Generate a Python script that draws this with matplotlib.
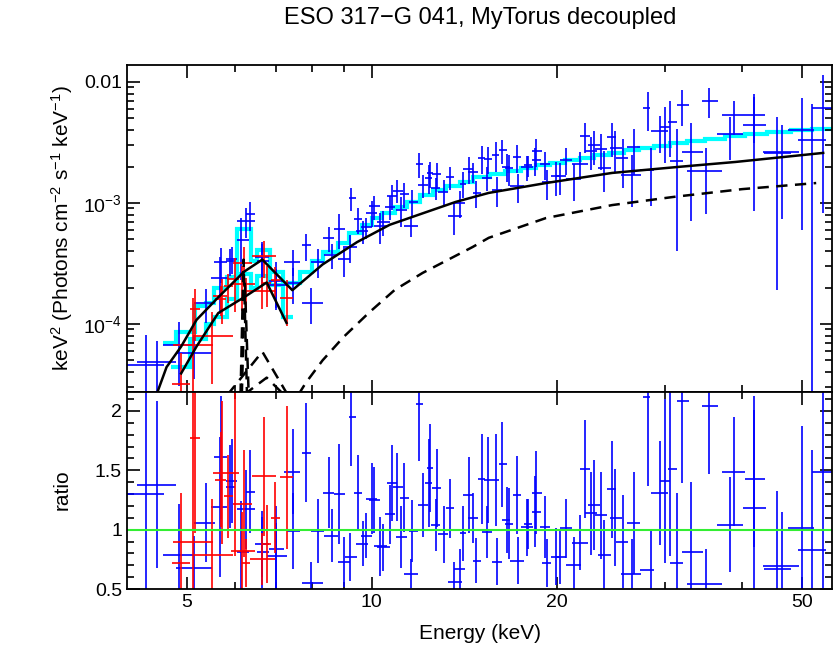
import numpy as np
import matplotlib
matplotlib.use("Agg")
import matplotlib.pyplot as plt
from matplotlib.ticker import FixedLocator, NullFormatter, FixedFormatter, MultipleLocator, LogLocator

plt.rcParams['font.family'] = ['Liberation Sans', 'DejaVu Sans']
plt.rcParams['mathtext.fontset'] = 'custom'
plt.rcParams['mathtext.rm'] = 'Liberation Sans'
plt.rcParams['mathtext.it'] = 'Liberation Sans:italic'

# ---- blue data (energy centre, bin edges, ratio, 1-sigma) ----
b_e = [4.30, 4.48, 4.87, 5.15, 5.37, 5.66, 5.68, 5.92, 5.88, 6.14, 6.33, 6.24, 6.62, 6.64, 7.00, 6.98, 7.44, 7.44,
       7.83, 7.98, 8.17, 8.51, 8.61, 8.84, 9.00, 9.23, 9.27, 9.50, 9.67, 9.80, 10.0, 10.1, 10.3, 10.45, 10.7, 10.8,
       11.0, 11.15, 11.3, 11.65, 11.6, 11.95, 12.1, 12.4, 12.45, 12.75, 12.7, 13.1, 13.4, 13.6, 13.9, 14.1, 14.4,
       14.6, 14.8,
       15.1, 15.4, 15.45, 15.9, 16.0, 16.3, 16.6, 16.75, 17.3, 17.25, 17.9, 17.95, 18.5, 18.45, 19.3, 19.1, 19.9,
       20.2, 20.7, 21.3, 21.8, 22.2, 22.7, 23.0, 23.6, 23.9, 24.6, 24.9, 25.6, 26.5, 26.7, 28.1, 28.4,
       29.4, 30.0, 30.6, 31.3, 31.9, 33.0, 34.9, 35.4, 38.2, 38.8, 41.8, 41.9, 45.6, 46.4, 50.0, 51.9, 54.1]
b_lo = [3.99, 4.16, 4.58, 4.80, 5.15, 5.47, 5.55, 5.79, 5.79, 6.03, 6.24, 6.03, 6.45, 6.50, 6.80, 6.75, 7.21, 7.27,
        7.70, 7.70, 7.98, 8.32, 8.38, 8.67, 8.80, 9.04, 9.20, 9.37, 9.43, 9.60, 9.80, 9.90, 10.1, 10.2, 10.5, 10.6,
        10.85, 10.95, 11.1, 11.5, 11.3, 11.8, 11.9, 12.2, 12.3, 12.55, 12.5, 12.8, 13.2, 13.3, 13.6, 13.9, 14.1,
        14.35, 14.6,
        14.9, 15.1, 15.2, 15.7, 15.7, 16.1, 16.3, 16.45, 16.8, 17.0, 17.5, 17.7, 18.2, 18.2, 18.9, 18.8, 19.6,
        19.9, 20.2, 20.7, 21.2, 21.8, 22.2, 22.5, 23.1, 23.3, 24.1, 24.4, 25.0, 25.4, 26.0, 27.6, 27.3,
        28.5, 29.4, 30.3, 30.5, 31.3, 31.9, 32.6, 34.4, 36.4, 37.1, 40.4, 40.2, 43.2, 43.4, 47.6, 49.3, 51.9]
b_hi = [4.60, 4.80, 5.15, 5.49, 5.57, 5.81, 5.81, 6.05, 6.00, 6.31, 6.47, 6.45, 6.82, 6.82, 7.21, 7.27, 7.64, 7.64,
        7.98, 8.32, 8.38, 8.70, 8.80, 9.04, 9.23, 9.46, 9.43, 9.64, 9.85, 10.0, 10.2, 10.3, 10.6, 10.7, 10.9, 11.0,
        11.25, 11.4, 11.5, 11.9, 11.9, 12.1, 12.35, 12.55, 12.6, 12.95, 12.9, 13.3, 13.6, 14.0, 14.2, 14.25, 14.6,
        14.9, 15.05,
        15.3, 15.7, 15.7, 16.1, 16.3, 16.6, 16.8, 17.0, 17.7, 17.5, 18.3, 18.2, 18.9, 18.85, 19.6, 19.5, 20.2,
        20.7, 21.2, 21.9, 22.45, 22.6, 23.2, 23.5, 24.1, 24.5, 25.0, 25.5, 26.1, 27.4, 27.3, 28.3, 28.8,
        30.3, 30.6, 31.3, 32.1, 32.8, 34.5, 37.1, 36.5, 40.2, 40.5, 43.6, 43.8, 49.5, 48.0, 52.3, 54.7, 56.1]
b_ratio = [1.30, 1.38, 0.79, 0.68, 1.06, 1.19, 1.61, 1.41, 1.36, 0.81, 1.32, 1.17, 0.88, 0.81, 0.84, 0.78, 1.49, 0.99,
           1.65, 0.55, 0.99, 1.31, 0.95, 1.30, 0.73, 0.77, 1.95, 1.31, 0.88, 0.95, 1.26, 1.25, 0.86, 0.85, 1.13, 1.39,
           1.36, 0.94, 1.27, 0.99, 0.63, 2.06, 1.21, 1.39, 1.52, 1.35, 1.04, 0.96, 1.18, 0.56, 0.67, 0.97, 1.29,
           1.10, 0.74,
           1.43, 0.98, 1.42, 1.42, 0.73, 1.55, 1.08, 1.05, 0.74, 1.29, 1.02, 1.05, 1.31, 1.15, 0.72, 1.02, 0.77,
           0.77, 1.01, 0.70, 0.89, 1.51, 1.14, 1.21, 1.12, 0.79, 1.34, 1.10, 0.90, 0.63, 1.06, 2.12, 0.66,
           1.31, 1.41, 1.51, 0.72, 2.08, 0.81, 0.54, 2.04, 1.04, 1.49, 1.43, 1.18, 0.69, 0.67, 1.01, 0.83, 1.49]
b_sig = [1.00, 0.70, 0.43, 0.27, 0.33, 0.59, 0.52, 0.35, 0.35, 0.43, 0.35, 0.33, 0.28, 0.30, 0.36, 0.28, 0.36, 0.32,
         0.42, 0.18, 0.27, 0.30, 0.22, 0.42, 0.21, 0.20, 0.41, 0.32, 0.19, 0.19, 0.30, 0.28, 0.25, 0.20, 0.25, 0.32,
         0.29, 0.26, 0.29, 0.26, 0.12, 0.48, 0.27, 0.37, 0.37, 0.33, 0.22, 0.24, 0.25, 0.17, 0.17, 0.23, 0.32,
         0.21, 0.19,
         0.38, 0.22, 0.36, 0.39, 0.20, 0.36, 0.28, 0.30, 0.20, 0.33, 0.24, 0.21, 0.35, 0.30, 0.20, 0.26, 0.24,
         0.23, 0.25, 0.24, 0.23, 0.41, 0.35, 0.38, 0.37, 0.29, 0.41, 0.41, 0.39, 0.29, 0.43, 0.75, 0.33,
         0.44, 0.69, 0.73, 0.59, 0.69, 0.59, 0.30, 0.57, 0.40, 0.46, 0.58, 0.95, 0.64, 0.48, 0.86, 0.84, 1.29]

# ---- red data ----
r_e = [4.89, 5.13, 5.17, 5.50, 5.70, 5.68, 6.00, 5.84, 6.19, 6.15, 6.25, 6.69, 6.64, 6.77, 6.97, 7.27]
r_lo = [4.73, 4.76, 5.06, 5.15, 5.53, 5.57, 5.81, 5.75, 5.94, 5.90, 6.15, 6.39, 6.33, 6.64, 6.85, 7.10]
r_hi = [5.06, 5.53, 5.25, 5.96, 5.81, 5.79, 6.08, 5.94, 6.39, 6.45, 6.33, 7.00, 6.97, 6.87, 7.10, 7.44]
r_ratio = [0.72, 0.90, 1.77, 0.79, 1.48, 1.42, 1.48, 1.28, 1.22, 0.82, 0.72, 1.45, 0.75, 0.88, 1.10, 1.44]
r_sig = [0.59, 1.30, 0.80, 0.47, 0.60, 0.40, 0.70, 0.35, 0.45, 0.33, 0.20, 0.50, 0.22, 0.33, 0.30, 0.60]

# ---- folded model steps (cyan) ----
bmod_edges = [4.0, 4.58, 4.81, 5.16, 5.38, 5.54, 5.81, 6.05, 6.36, 6.50, 6.83, 7.18,
              7.64, 8.0, 8.32, 8.8, 9.2, 9.63, 10.03, 10.4, 10.9, 11.4, 11.96, 12.56, 13.2, 13.9, 14.6, 15.55,
              16.5, 17.5, 18.5, 19.5, 20.6, 21.8, 23.0, 24.3, 25.7, 27.2, 28.8, 30.5, 32.5, 34.8, 37.5, 40.5,
              44.0, 48.0, 52.0, 56.0]
bmod_vals = [3.5e-5, 6.9e-5, 8.5e-5, 1.4e-4, 1.5e-4, 2.0e-4, 2.45e-4, 6.1e-4, 3.3e-4, 4.1e-4, 2.7e-4, 2.2e-4,
             2.7e-4, 3.3e-4, 3.9e-4, 4.7e-4, 5.6e-4, 6.6e-4, 7.5e-4, 8.2e-4, 9.3e-4, 1.02e-3, 1.16e-3, 1.28e-3,
             1.38e-3, 1.49e-3, 1.64e-3,
             1.75e-3, 1.85e-3, 1.95e-3, 2.05e-3, 2.15e-3, 2.25e-3, 2.37e-3, 2.48e-3, 2.6e-3, 2.72e-3, 2.85e-3,
             2.98e-3, 3.1e-3, 3.25e-3, 3.4e-3, 3.55e-3, 3.7e-3, 3.85e-3, 3.97e-3, 4.1e-3]
rmod_edges = [4.72, 5.06, 5.38, 5.54, 5.81, 6.05, 6.36, 6.50, 6.83, 7.18, 7.46]
rmod_vals = [4.4e-5, 7.5e-5, 1.0e-4, 1.14e-4, 1.6e-4, 2.6e-4, 2.0e-4, 2.5e-4, 2.1e-4, 1.14e-4]

# ---- unfolded model curves (black) ----
btot_e = [4.48, 4.64, 4.9, 5.19, 5.63, 6.2, 6.64, 7.43, 8.32, 9.47, 10.7, 12.1, 13.7, 15.5, 19.2, 24.6, 31.7, 39.0, 54.2]
btot_v = [2.7e-5, 4.4e-5, 6.5e-5, 1.08e-4, 1.66e-4, 2.7e-4, 3.4e-4, 1.9e-4, 3.1e-4, 4.75e-4, 6.6e-4, 8.2e-4,
          1.02e-3, 1.21e-3, 1.46e-3, 1.77e-3, 1.99e-3, 2.18e-3, 2.59e-3]
rtot_e = [4.9, 5.19, 5.63, 6.2, 6.75, 7.27]
rtot_v = [3.9e-5, 6.5e-5, 1.23e-4, 1.66e-4, 2.2e-4, 1.02e-4]
cont_e = [7.6, 7.81, 8.32, 9.0, 9.9, 10.9, 12.1, 14.6, 15.5, 19.2, 24.6, 30.9, 40.0, 52.8]
cont_v = [2.6e-5, 3.25e-5, 5.0e-5, 7.8e-5, 1.24e-4, 1.91e-4, 2.64e-4, 4.33e-4, 5.15e-4, 7.5e-4, 9.6e-4,
          1.12e-3, 1.3e-3, 1.46e-3]
line_b_e = [6.12, 6.19, 6.27]
line_b_v = [2.6e-5, 3.4e-4, 2.6e-5]
line_r_e = [6.15, 6.22, 6.31]
line_r_v = [2.6e-5, 2.2e-4, 2.6e-5]
scat_b_e = [5.83, 6.64, 7.30]
scat_b_v = [2.6e-5, 5.9e-5, 2.6e-5]
scat_r_e = [6.2, 6.75, 7.2]
scat_r_v = [2.6e-5, 3.6e-5, 2.6e-5]


def model_at(e, edges, vals):
    i = np.clip(np.searchsorted(edges, e, side='right') - 1, 0, len(vals) - 1)
    return np.asarray(vals)[i]


b_e = np.array(b_e); r_e = np.array(r_e)
b_m = model_at(b_e, bmod_edges, bmod_vals)
r_m = model_at(r_e, rmod_edges, rmod_vals)
b_y = np.array(b_ratio) * b_m
b_dy = np.array(b_sig) * b_m
r_y = np.array(r_ratio) * r_m
r_dy = np.array(r_sig) * r_m

b_xerr = [b_e - np.array(b_lo), np.array(b_hi) - b_e]
r_xerr = [r_e - np.array(r_lo), np.array(r_hi) - r_e]

fig = plt.figure(figsize=(8.35, 6.48), dpi=100)
ax1 = fig.add_axes([0.152, 0.3951, 0.8443, 0.5046])
ax2 = fig.add_axes([0.152, 0.0910, 0.8443, 0.3041])

# upper panel
ax1.errorbar(b_e, b_y, xerr=b_xerr, yerr=[np.minimum(b_dy, b_y * 0.999), b_dy],
             fmt='none', ecolor='#0000ff', elinewidth=1.2, capsize=0)
ax1.errorbar(r_e, r_y, xerr=r_xerr, yerr=[np.minimum(r_dy, r_y * 0.999), r_dy],
             fmt='none', ecolor='#ff0000', elinewidth=1.2, capsize=0)
ax1.stairs(bmod_vals[1:], bmod_edges[1:], color='#00ffff', lw=3.0, baseline=None)
ax1.stairs(rmod_vals, rmod_edges, color='#00ffff', lw=3.0, baseline=None)
ax1.plot(btot_e, btot_v, color='black', lw=1.8)
ax1.plot(rtot_e, rtot_v, color='black', lw=1.8)
dash = (0, (4.5, 3))
ax1.plot(cont_e, cont_v, color='black', lw=1.8, linestyle=dash)
ax1.plot(line_b_e, line_b_v, color='black', lw=1.8, linestyle=dash)
ax1.plot(line_r_e, line_r_v, color='black', lw=1.8, linestyle=dash)
ax1.plot(scat_b_e, scat_b_v, color='black', lw=1.8, linestyle=dash)
ax1.plot(scat_r_e, scat_r_v, color='black', lw=1.8, linestyle=dash)

ax1.set_xscale('log')
ax1.set_yscale('log')
ax1.set_xlim(4.0, 56.0)
ax1.set_ylim(2.74e-5, 0.0138)
ax1.yaxis.set_major_locator(FixedLocator([1e-4, 1e-3, 1e-2]))
ax1.yaxis.set_major_formatter(FixedFormatter([r'10$^{-4}$', r'10$^{-3}$', '0.01']))
ax1.yaxis.set_minor_locator(LogLocator(base=10, subs=np.arange(2, 10)))
ax1.yaxis.set_minor_formatter(NullFormatter())

# lower panel
ax2.errorbar(b_e, b_ratio, xerr=b_xerr, yerr=b_sig, fmt='none', ecolor='#0000ff', elinewidth=1.2, capsize=0)
ax2.errorbar(r_e, r_ratio, xerr=r_xerr, yerr=r_sig, fmt='none', ecolor='#ff0000', elinewidth=1.2, capsize=0)
ax2.axhline(1.0, color='#33ee33', lw=1.5)
ax2.set_xscale('log')
ax2.set_xlim(4.0, 56.0)
ax2.set_ylim(0.5, 2.16)
ax2.yaxis.set_major_locator(FixedLocator([0.5, 1.0, 1.5, 2.0]))
ax2.yaxis.set_major_formatter(FixedFormatter(['0.5', '1', '1.5', '2']))
ax2.yaxis.set_minor_locator(MultipleLocator(0.1))

for ax in (ax1, ax2):
    ax.xaxis.set_major_locator(FixedLocator([5, 10, 20, 50]))
    ax.xaxis.set_minor_locator(FixedLocator([6, 7, 8, 9, 30, 40]))
    ax.xaxis.set_minor_formatter(NullFormatter())
    ax.tick_params(which='both', direction='in', top=True, right=True, width=1.2, labelsize=14)
    ax.tick_params(which='major', length=9)
    ax.tick_params(which='minor', length=5)
    for s in ax.spines.values():
        s.set_linewidth(1.3)
ax1.tick_params(axis='x', which='both', labelbottom=False)
ax2.xaxis.set_major_formatter(FixedFormatter(['5', '10', '20', '50']))

fig.text(0.575, 0.972, 'ESO 317\u2212G 041, MyTorus decoupled', ha='center', va='center', fontsize=17)
fig.text(0.074, 0.648, r'keV$^2$ (Photons cm$^{-2}$ s$^{-1}$ keV$^{-1}$)', rotation=90,
         ha='center', va='center', fontsize=15)
fig.text(0.074, 0.244, 'ratio', rotation=90, ha='center', va='center', fontsize=15)
fig.text(0.575, 0.023, 'Energy (keV)', ha='center', va='center', fontsize=15)

fig.savefig('out.png', dpi=100)
